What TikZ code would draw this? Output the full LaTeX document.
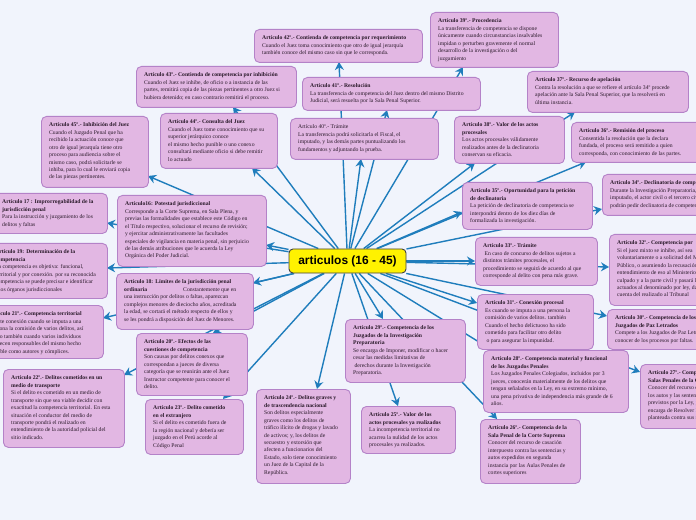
\documentclass[tikz,border=0pt]{standalone}
\usepackage{fontspec}
\setmainfont{Liberation Serif}
\newfontfamily\hubfont{Liberation Sans}
\usetikzlibrary{arrows.meta,calc}
\definecolor{bgc}{HTML}{F1F4FC}
\definecolor{boxfill}{HTML}{E2B7E3}
\definecolor{boxline}{HTML}{B482C8}
\definecolor{linkc}{HTML}{1F7DBC}
\definecolor{hubfill}{HTML}{FFF200}
\definecolor{txtc}{HTML}{2A1A2A}
\pgfdeclarelayer{bgl}\pgfdeclarelayer{lns}\pgfsetlayers{bgl,lns,main}
\tikzset{
 abox/.style={draw=boxline, fill=boxfill, rounded corners=5bp, line width=0.9bp, inner sep=0pt},
 atext/.style={inner sep=0pt, align=left, text=txtc, font=\fontsize{5.7}{7.5}\selectfont},
 hub/.style={draw=black!75, fill=hubfill, rounded corners=4bp, line width=0.9bp, minimum width=117bp, minimum height=24bp, inner sep=0pt, font=\hubfont\bfseries\fontsize{12}{14}\selectfont},
 link/.style={draw=linkc, line width=1.4bp, -{Stealth[length=8bp,width=9bp]}},
}
\newcommand\artbox[6]{%
 \node[abox, minimum width=#4bp, minimum height=#5bp, anchor=north west] (#1) at (#2,#3) {};
 \node[atext, anchor=north west] (#1t) at ($(#1.north west)+(8,6.5)$) {#6};}
\newcommand\artlink[3]{\draw[link] (hub) -- ($(#1.north west)+(#2,#3)$);}
\begin{document}
\begin{tikzpicture}[x=1bp,y=-1bp]
\useasboundingbox (0,0) rectangle (696,520);
\begin{pgfonlayer}{bgl}
\fill[bgc] (0,0) rectangle (696,520);
\end{pgfonlayer}

\node[hub] (hub) at (347.5,261) {articulos (16 - 45)};

\artbox{A42}{254}{29}{168}{33}{\textbf{Artículo 42º.- Contienda de competencia por requerimiento}\\Cuando el Juez toma conocimiento que otro de igual jerarquía\\también conoce del mismo caso sin que le corresponda.}
\artbox{A43}{136}{66}{160}{41}{\textbf{Artículo 43º.- Contienda de competencia por inhibición}\\Cuando el Juez se inhibe, de oficio o a instancia de las\\partes, remitirá copia de las piezas pertinentes a otro Juez si\\hubiera detenido; en caso contrario remitirá el proceso.}
\artbox{A44}{160}{113}{117}{55}{\textbf{Artículo 44º.- Consulta del Juez}\\Cuando el Juez tome conocimiento que su\\superior jerárquico conoce\\el mismo hecho punible o uno conexo\\consultará mediante oficio si debe remitir\\lo actuado}
\artbox{A41}{302}{77}{178}{33}{\textbf{Artículo 41º.- Resolución}\\La transferencia de competencia del Juez dentro del mismo Distrito\\Judicial, será resuelta por la Sala Penal Superior.}
\artbox{A40}{290}{118}{148}{41}{Artículo 40º.- Trámite\\La transferencia podrá solicitarla el Fiscal, el\\imputado, y las demás partes puntualizando los\\fundamentos y adjuntando la prueba.}
\artbox{A39}{430}{12}{128}{55}{\textbf{Artículo 39º.- Procedencia}\\La transferencia de competencia se dispone\\únicamente cuando circunstancias insalvables\\impidan o perturben gravemente el normal\\desarrollo de la investigación o del\\juzgamiento}
\artbox{A37}{527}{71}{161}{41}{\textbf{Artículo 37º.- Recurso de apelación}\\Contra la resolución a que se refiere el artículo 34º procede\\apelación ante la Sala Penal Superior, que la resolverá en\\última instancia.}
\artbox{A38}{454}{116}{110}{47}{\textbf{Artículo 38º.- Valor de los actos}\\\textbf{procesales}\\Los actos procesales válidamente\\realizados antes de la declinatoria\\conservan su eficacia.}
\artbox{A36}{571}{122}{130}{40}{\textbf{Artículo 36º.- Remisión del proceso}\\Consentida la resolución que la declara\\fundada, el proceso será remitido a quien\\corresponda, con conocimiento de las partes.}
\artbox{A35}{462}{182}{130}{47}{\textbf{Artículo 35º.- Oportunidad para la petición}\\\textbf{de declinatoria}\\La petición de declinatoria de competencia se\\interpondrá dentro de los diez días de\\formalizada la investigación.}
\artbox{A34}{602}{174}{120}{41}{\textbf{Artículo 34º.- Declinatoria de competencia}\\Durante la Investigación Preparatoria, el\\imputado, el actor civil o el tercero civil\\podrán pedir declinatoria de competencia.}
\artbox{A33}{475}{237}{122}{48}{\textbf{Artículo 33º.- Trámite}\\\ En caso de concurso de delitos sujetos a\\distintos trámites procesales, el\\procedimiento se seguirá de acuerdo al que\\corresponde al delito con pena más grave.}
\artbox{A32}{609}{234}{120}{71}{\textbf{Artículo 32º.- Competencia por}\\Si el juez mixto se inhibe, así sea\\voluntariamente o a solicitud del Ministerio\\Público, o asumiendo la recusación, pondrá\\entendimiento de eso al Ministerio Público,\\culpado y a la parte civil y pasará los\\actuados al denominado por ley, dando\\cuenta del realizado al Tribunal}
\artbox{A31}{477}{294}{116}{55}{\textbf{Artículo 31º.- Conexión procesal}\\Es cuando se imputa a una persona la\\comisión de varios delitos. también\\Cuando el hecho delictuoso ha sido\\cometido para facilitar otro delito\\\ o para asegurar la impunidad.}
\artbox{A30}{607}{309}{120}{40}{\textbf{Artículo 30º.- Competencia de los}\\\textbf{Juzgados de Paz Letrados}\\Compete a los Juzgados de Paz Letrados\\conocer de los procesos por faltas.}
\artbox{A28}{483}{350}{145}{62}{\textbf{Artículo 28º.- Competencia material y funcional}\\\textbf{de los Juzgados Penales}\\Los Juzgados Penales Colegiados, incluidos por 3\\jueces, conocerán materialmente de los delitos que\\tengan señalados en la Ley, en su extremo mínimo,\\una pena privativa de independencia más grande de 6\\años.}
\artbox{A27}{640}{364}{100}{64}{\textbf{Artículo 27º.- Competencia de las}\\\textbf{Salas Penales de la Corte Superior}\\Conocer del recurso de apelación\\los autos y las sentencias en los casos\\previstos por la Ley, y se\\encarga de Resolver la recusación\\planteada contra sus magistrados}
\artbox{A26}{480}{419}{100}{64}{\textbf{Artículo 26º.- Competencia de la}\\\textbf{Sala Penal de la Corte Suprema}\\Conocer del recurso de casación\\interpuesto contra las sentencias y\\autos expedidos en segunda\\instancia por las Aulas Penales de\\cortes superiores}
\artbox{A29}{345}{319}{120}{63}{\textbf{Artículo 29º.- Competencia de los}\\\textbf{Juzgados de la Investigación}\\\textbf{Preparatoria}\\Se encarga de Imponer, modificar o hacer\\cesar las medidas limitativas de\\\ derechos durante la Investigación\\Preparatoria.}
\artbox{A25}{361}{406}{94}{47}{\textbf{Artículo 25º.- Valor de los}\\\textbf{actos procesales ya realizados}\\La incompetencia territorial no\\acarrea la nulidad de los actos\\procesales ya realizados.}
\artbox{A24}{256}{389}{94}{94}{\textbf{Artículo 24º.- Delitos graves y}\\\textbf{de trascendencia nacional}\\Son delitos especialmente\\graves como los delitos de\\tráfico ilícito de drogas y lavado\\de activos; y, los delitos de\\secuestro y extorsión que\\afecten a funcionarios del\\Estado, solo tiene conocimiento\\un Juez de la Capital de la\\República.}
\artbox{A23}{145}{399}{98}{55}{\textbf{Artículo 23º.- Delito cometido}\\\textbf{en el extranjero}\\Si el delito es cometido fuera de\\la región nacional y debería ser\\juzgado en el Perú acorde al\\Código Penal}
\artbox{A20}{136}{333}{111}{62}{\textbf{Artículo 20º.- Efectos de las}\\\textbf{cuestiones de competencia}\\Son causas por delitos conexos que\\correspondan a jueces de diversa\\categoría que se reunirán ante el Juez\\Instructor competente para conocer el\\delito.}
\artbox{A22}{3}{369}{121}{78}{\textbf{Artículo 22º.- Delitos cometidos en un}\\\textbf{medio de transporte}\\Si el delito es cometido en un medio de\\transporte sin que sea viable decidir con\\exactitud la competencia territorial. En esta\\situación el conductor del medio de\\transporte pondrá el realizado en\\entendimiento de la autoridad policial del\\sitio indicado.}
\artbox{A21}{-18}{305}{121}{53}{\textbf{Artículo 21º.- Competencia territorial}\\Existe conexión cuando se imputa a una\\persona la comisión de varios delitos, así\\como también cuando varios individuos\\aparecen responsables del mismo hecho\\punible como autores y cómplices.}
\artbox{A19}{-13}{243}{120}{55}{\textbf{Artículo 19: Determinación de la}\\\textbf{competencia}\\La competencia es objetiva: funcional,\\territorial y por conexión. por su reconocida\\competencia se puede precisar e identificar\\a los órganos jurisdiccionales}
\artbox{A17}{-6}{193}{113}{40}{\textbf{Artículo 17 : Improrrogabilidad de la}\\\textbf{jurisdicción penal}\\Para la instrucción y juzgamiento de los\\delitos y faltas}
\artbox{A45}{41}{116}{107}{71}{\textbf{Artículo 45º.- Inhibición del Juez}\\Cuando el Juzgado Penal que ha\\recibido la actuación conoce que\\otro de igual jerarquía tiene otro\\proceso para audiencia sobre el\\mismo caso, podrá solicitarle se\\inhiba, para lo cual le enviará copia\\de las piezas pertinentes.}
\artbox{A16}{117}{195}{149}{71}{\textbf{Artículo16: Potestad jurisdiccional}\\Corresponde a la Corte Suprema, en Sala Plena, y\\previas las formalidades que establece este Código en\\el Título respectivo, solucionar el recurso de revisión;\\y ejercitar administrativamente las facultades\\especiales de vigilancia en materia penal, sin perjuicio\\de las demás atribuciones que le acuerda la Ley\\Orgánica del Poder Judicial.}
\artbox{A18}{116}{273}{137}{56}{\textbf{Artículo 18: Límites de la jurisdicción penal}\\\textbf{ordinaria}\hspace{36bp}Constantemente que en\\una instrucción por delitos o faltas, aparezcan\\complejos menores de dieciocho años, acreditada\\la edad, se cortará el método respecto de ellos y\\se les pondrá a disposición del Juez de Menores.}

\begin{pgfonlayer}{lns}
\artlink{A42}{85}{33}
\artlink{A43}{97}{41}
\artlink{A44}{92}{55}
\artlink{A41}{85}{33}
\artlink{A40}{71}{41}
\artlink{A39}{33}{55}
\artlink{A37}{48}{41}
\artlink{A38}{21}{47}
\artlink{A36}{15}{40}
\artlink{A35}{0}{30}
\artlink{A34}{0}{35}
\artlink{A33}{0}{24}
\artlink{A32}{0}{33}
\artlink{A31}{0}{9}
\artlink{A30}{0}{7}
\artlink{A28}{9}{0}
\artlink{A27}{0}{8}
\artlink{A26}{17}{0}
\artlink{A29}{38}{0}
\artlink{A25}{37}{0}
\artlink{A24}{61}{0}
\artlink{A23}{78}{0}
\artlink{A20}{77}{0}
\artlink{A22}{121}{6}
\artlink{A21}{121}{13}
\artlink{A19}{120}{25}
\artlink{A17}{113}{30}
\artlink{A45}{107}{60}
\artlink{A16}{149}{50}
\artlink{A18}{137}{10}
\end{pgfonlayer}
\end{tikzpicture}
\end{document}
